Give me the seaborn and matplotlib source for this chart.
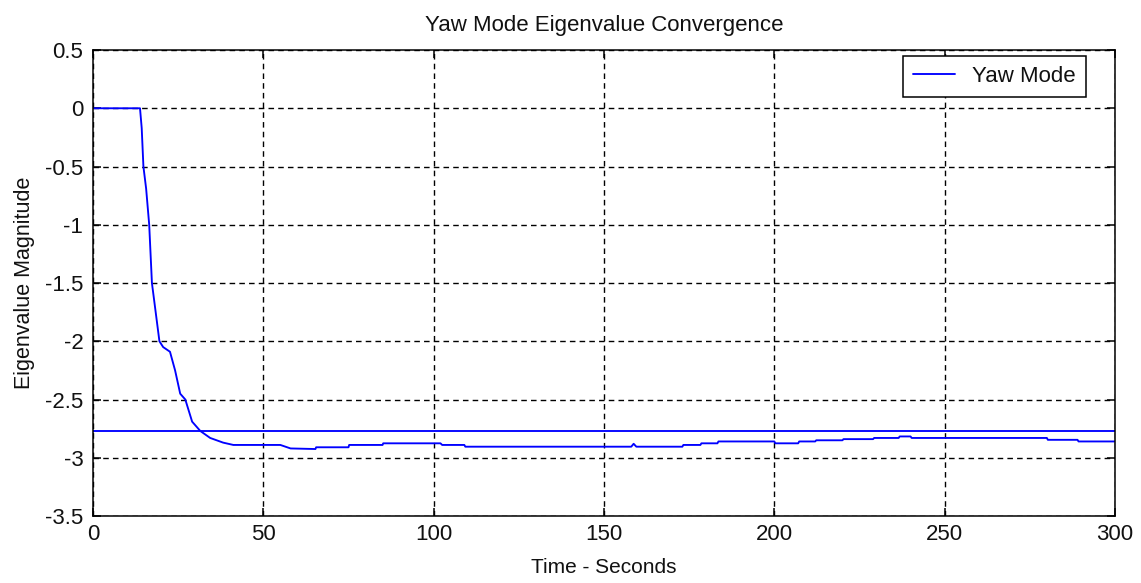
import matplotlib
matplotlib.use("Agg")
import matplotlib.pyplot as plt
import seaborn as sns
import pandas as pd

# Yaw mode eigenvalue estimate over time
time_s = [0, 13.8, 14.3, 14.8, 15.6, 16.5, 17.3, 19.5, 20.6, 22.6, 24.1, 25.6,
          27.1, 29.1, 31.5, 34.4, 38.2, 41.2, 55, 58, 65.3, 65.5, 75, 75.2, 85,
          85.2, 102, 102.5, 109, 109.3, 158, 158.7, 159.5, 173, 173.3, 178.3,
          178.6, 183.3, 183.6, 200, 200.3, 207, 207.3, 212, 212.3, 220, 220.3,
          229, 229.3, 236.5, 236.8, 240, 240.3, 280, 280.3, 289, 289.3, 300]
eigenvalue = [0, 0, -0.17, -0.5, -0.69, -1.0, -1.5, -2.0, -2.05, -2.09, -2.25, -2.45,
              -2.5, -2.69, -2.77, -2.83, -2.87, -2.89, -2.89, -2.92, -2.925, -2.91, -2.91, -2.89, -2.89,
              -2.876, -2.876, -2.89, -2.89, -2.905, -2.905, -2.88, -2.905, -2.905, -2.89, -2.89,
              -2.876, -2.876, -2.86, -2.86, -2.876, -2.876, -2.86, -2.86, -2.85, -2.85, -2.84,
              -2.84, -2.83, -2.83, -2.817, -2.817, -2.83, -2.83, -2.846, -2.846, -2.86, -2.86]

# True eigenvalue reference level
ref_time = [0, 300]
ref_value = [-2.77, -2.77]

xticks = [0, 50, 100, 150, 200, 250, 300]
yticks = [0.5, 0, -0.5, -1, -1.5, -2, -2.5, -3, -3.5]
ytick_labels = ["0.5", "0", "-0.5", "-1", "-1.5", "-2", "-2.5", "-3", "-3.5"]

sns.set_style("white")
plt.rcParams["font.family"] = ["Liberation Sans", "DejaVu Sans"]

df = pd.DataFrame({"t": time_s, "v": eigenvalue})
ref = pd.DataFrame({"t": ref_time, "v": ref_value})

fig = plt.figure(figsize=(11.41, 5.83), dpi=100)
ax = fig.add_axes([0.0815, 0.1149, 0.8957, 0.7993])

sns.lineplot(data=df, x="t", y="v", ax=ax, color="#0000ff", lw=1.35,
             label="Yaw Mode", estimator=None, sort=False)
sns.lineplot(data=ref, x="t", y="v", ax=ax, color="#0000ff", lw=1.35,
             estimator=None, sort=False, legend=False)

ax.set_xlim(0, 300)
ax.set_ylim(-3.5, 0.5)
ax.set_xticks(xticks)
ax.set_yticks(yticks)
ax.set_xticklabels([str(x) for x in xticks])
ax.set_yticklabels(ytick_labels)

ax.grid(True, color="black", linestyle=(0, (4, 3)), linewidth=1.0)
ax.set_axisbelow(True)
for s in ax.spines.values():
    s.set_color("black")
    s.set_linewidth(1.1)
ax.tick_params(direction="in", length=6, width=1.1, color="black",
               labelcolor="#111111", top=True, right=True, bottom=True, left=True,
               labelsize=16)
ax.tick_params(axis="x", pad=6)
ax.tick_params(axis="y", pad=7)

ax.set_title("Yaw Mode Eigenvalue Convergence", fontsize=16, pad=14, color="#111111")
ax.set_xlabel("Time - Seconds", fontsize=15, labelpad=9, color="#111111")
ax.set_ylabel("Eigenvalue Magnitude", fontsize=15.5, labelpad=7, color="#111111")

leg = ax.legend(loc="upper right", bbox_to_anchor=(0.9716, 0.987), frameon=True,
                fancybox=False, shadow=False, handlelength=1.85, handletextpad=0.8,
                borderpad=0.45, borderaxespad=0.0, fontsize=16)
leg.get_frame().set_edgecolor("black")
leg.get_frame().set_linewidth(1.1)
leg.get_frame().set_alpha(1.0)
for t in leg.get_texts():
    t.set_color("#111111")

fig.savefig("out.png", dpi=100)
